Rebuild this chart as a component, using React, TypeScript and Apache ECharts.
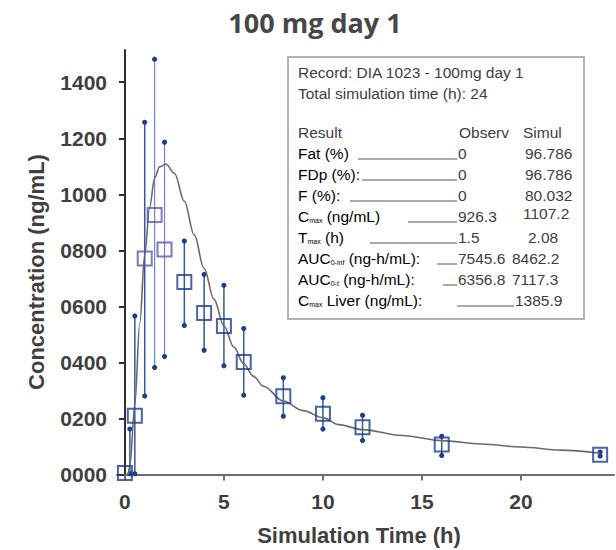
import React, { useEffect, useRef } from "react";
import * as echarts from "echarts";

// ---------- data ----------
const titleText = "100 mg day 1";
const xAxisName = "Simulation Time (h)";
const yAxisName = "Concentration (ng/mL)";
const xTicks = [0, 5, 10, 15, 20];
const yTicks = [0, 200, 400, 600, 800, 1000, 1200, 1400];

// observed means
const obsTimes = [0, 0.5, 1, 1.5, 2, 3, 4, 5, 6, 8, 10, 12, 16, 24];
const obsMeans = [5, 210, 771, 926, 803, 687, 576, 530, 401, 279, 217, 169, 107, 70];
const purpleTimes = [1, 1.5, 2];

// error bars (low / high)
const errTimes = [0.25, 0.5, 1, 1.5, 2, 3, 4, 5, 6, 8, 10, 12, 16, 24];
const errLow = [3, 3, 280, 382, 421, 532, 443, 388, 283, 208, 162, 121, 68, 66];
const errHigh = [162, 566, 1257, 1482, 1186, 833, 714, 675, 521, 345, 274, 211, 136, 80];
const lightBarTimes = [1.5, 2];

// simulated curve
const simTimes = [0, 0.15, 0.25, 0.5, 0.75, 1, 1.25, 1.5, 1.75, 2.08, 2.5, 3, 3.5, 4, 4.5, 5, 5.5, 6, 6.5, 7, 8, 9, 10, 10.8, 12, 14, 16, 18, 20, 22, 24];
const simValues = [0, 0, 30, 250, 540, 785, 955, 1058, 1098, 1107, 1075, 975, 855, 735, 625, 530, 455, 395, 350, 315, 262, 228, 203, 178, 160, 139, 121, 109, 98, 87, 76];

// info box
const infoLines = ["Record: DIA 1023 - 100mg day 1", "Total simulation time (h): 24"];
const headers = ["Result", "Observ", "Simul"];
const rowHead = ["Fat (%)", "FDp (%):", "F (%):", "C", "T", "AUC", "AUC", "C"];
const rowSub = ["", "", "", "max", "max", "0-inf", "0-t", "max"];
const rowTail = ["", "", "", " (ng/mL)", " (h)", " (ng-h/mL):", " (ng-h/mL):", " Liver (ng/mL):"];
const observed = ["0", "0", "0", "926.3", "1.5", "7545.6", "6356.8", ""];
const simulated = ["96.786", "96.786", "80.032", "1107.2", "2.08", "8462.2", "7117.3", "1385.9"];

// ---------- layout ----------
const leaderStart = [358, 362, 350, 408, 370, 437, 443, 457];
const leaderEnd = [457, 457, 457, 457, 457, 457, 457, 514];
const simX = [525, 525, 525, 523, 528, 512, 512, 515];

export default function App() {
  const ref = useRef<HTMLDivElement>(null);
  useEffect(() => {
    if (!ref.current) return;
    const chart = echarts.init(ref.current, undefined, { renderer: "svg" });
    const navy = "#1d3f8c";
    const purple = "#6152b5";
    const txt = "#3d3d3d";
    const tableFont = "Liberation Sans";

    const graphics: any[] = [];
    graphics.push({
      type: "text", x: 315, y: 22,
      style: { text: titleText, font: "bold 27px 'Open Sans'", fill: "#474747", textAlign: "center", textVerticalAlign: "middle" },
    });
    graphics.push({
      type: "text", x: 36, y: 272, rotation: Math.PI / 2,
      style: { text: yAxisName, font: "bold 22px 'Liberation Sans'", fill: "#404040", textAlign: "center", textVerticalAlign: "middle" },
    });
    graphics.push({
      type: "text", x: 359, y: 535,
      style: { text: xAxisName, font: "bold 22px 'Liberation Sans'", fill: "#404040", textAlign: "center", textVerticalAlign: "middle" },
    });
    graphics.push({
      type: "rect", shape: { x: 288, y: 57, width: 296, height: 262 },
      style: { fill: "#fff", stroke: "#9a9a9a", lineWidth: 1.5 }, z: 10,
    });
    infoLines.forEach((t, i) => {
      graphics.push({
        type: "text", x: 298, y: 72 + i * 21, z: 11,
        style: { text: t, font: `15.5px '${tableFont}'`, fill: txt, textVerticalAlign: "middle" },
      });
    });
    const hx = [298, 459, 523];
    headers.forEach((h, i) => {
      graphics.push({
        type: "text", x: hx[i], y: 132, z: 11,
        style: { text: h, font: `15.5px '${tableFont}'`, fill: txt, textVerticalAlign: "middle" },
      });
    });
    rowHead.forEach((h, i) => {
      const y = 153 + i * 21;
      const rich = {
        a: { fontSize: 15.5, fontFamily: tableFont, color: txt },
        s: { fontSize: 7, fontFamily: tableFont, color: txt, padding: [9, 0, 0, 0] },
      };
      const text = rowSub[i] ? `{a|${h}}{s|${rowSub[i]}}{a|${rowTail[i]}}` : `{a|${h}${rowTail[i]}}`;
      graphics.push({
        type: "text", x: 298, y, z: 11,
        style: { text, rich, textVerticalAlign: "middle" },
      });
      graphics.push({
        type: "line", z: 11,
        shape: { x1: leaderStart[i], y1: y + 6, x2: leaderEnd[i], y2: y + 6 },
        style: { stroke: "#555", lineWidth: 1 },
      });
      if (observed[i]) {
        graphics.push({
          type: "text", x: 458, y, z: 11,
          style: { text: observed[i], font: `15.5px '${tableFont}'`, fill: txt, textVerticalAlign: "middle" },
        });
      }
      graphics.push({
        type: "text", x: simX[i], y: i === 3 ? y - 3 : y, z: 11,
        style: { text: simulated[i], font: `15.5px '${tableFont}'`, fill: txt, textVerticalAlign: "middle" },
      });
    });

    const navyPts = obsTimes.map((t, i) => [t, obsMeans[i]]).filter((p) => !purpleTimes.includes(p[0]));
    const purplePts = obsTimes.map((t, i) => [t, obsMeans[i]]).filter((p) => purpleTimes.includes(p[0]));
    const errData = errTimes.map((t, i) => [t, errLow[i], errHigh[i]]);

    const labelStyle = { fontFamily: "Liberation Sans", fontWeight: "bold", fontSize: 21, color: "#3f3f3f" };

    chart.setOption({
      animation: false,
      grid: { left: 117, right: 2, top: 50, bottom: 73 },
      xAxis: {
        type: "value", min: -0.4, max: 24.7,
        splitLine: { show: false },
        axisLine: { lineStyle: { color: "#6f6f6f", width: 2 } },
        axisTick: { length: 6, lineStyle: { color: "#6f6f6f", width: 2 }, customValues: xTicks },
        axisLabel: { ...labelStyle, margin: 14, customValues: xTicks },
      },
      yAxis: {
        type: "value", min: -9, max: 1515,
        splitLine: { show: false },
        axisLine: { show: true, lineStyle: { color: "#2f2f2f", width: 2 } },
        axisTick: { show: true, length: 6, lineStyle: { color: "#2f2f2f", width: 2 }, customValues: yTicks },
        axisLabel: {
          ...labelStyle, margin: 10, customValues: yTicks,
          formatter: (v: number) => String(Math.round(v)).padStart(4, "0"),
        },
      },
      graphic: graphics,
      series: [
        {
          type: "custom", clip: false, z: 2,
          data: errData,
          renderItem: (params: any, api: any) => {
            const x = api.value(0);
            const p1 = api.coord([x, api.value(1)]);
            const p2 = api.coord([x, api.value(2)]);
            const light = lightBarTimes.includes(x);
            return {
              type: "group",
              children: [
                { type: "line", shape: { x1: p1[0], y1: p1[1], x2: p2[0], y2: p2[1] }, style: { stroke: light ? "#6d87c7" : "#34589f", lineWidth: light ? 1.2 : 1.5 } },
                { type: "circle", shape: { cx: p1[0], cy: p1[1], r: 2.6 }, style: { fill: navy } },
                { type: "circle", shape: { cx: p2[0], cy: p2[1], r: 2.6 }, style: { fill: navy } },
              ],
            };
          },
        },
        {
          type: "line", z: 3,
          data: simTimes.map((t, i) => [t, simValues[i]]),
          showSymbol: false, symbol: "none", smooth: 0.35, smoothMonotone: "x",
          lineStyle: { color: "#6a6a6a", width: 1.6 },
        },
        {
          type: "scatter", z: 4, clip: false,
          data: navyPts, symbol: "rect", symbolSize: 14,
          itemStyle: { color: "rgba(0,0,0,0)", borderColor: navy, borderWidth: 2 },
        },
        {
          type: "scatter", z: 4, clip: false,
          data: purplePts, symbol: "rect", symbolSize: 14,
          itemStyle: { color: "rgba(0,0,0,0)", borderColor: purple, borderWidth: 2 },
        },
      ],
    });
    return () => chart.dispose();
  }, []);
  return <div ref={ref} style={{ position: "fixed", left: 0, top: 0, width: 616, height: 550, background: "#fff" }} />;
}
